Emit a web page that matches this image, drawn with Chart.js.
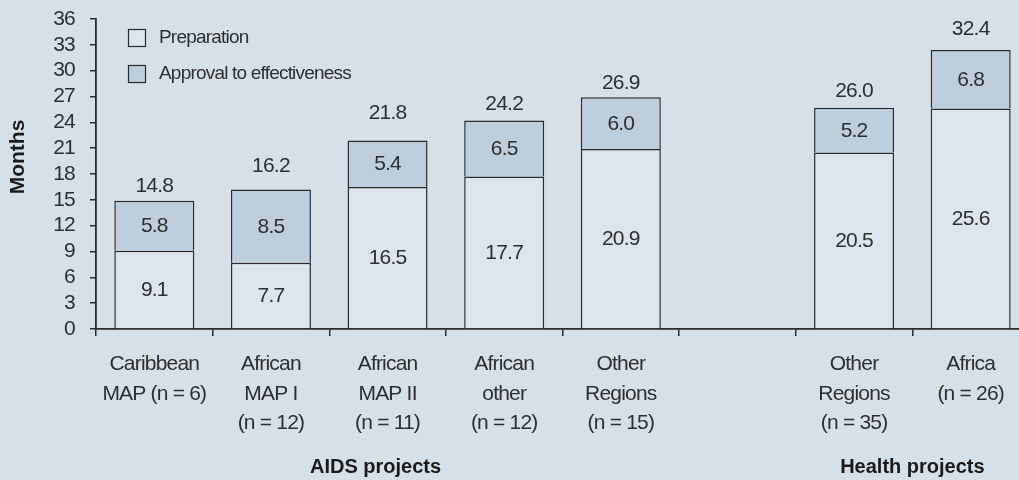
<!DOCTYPE html>
<html>
<head>
<meta charset="utf-8">
<script src="https://cdn.jsdelivr.net/npm/chart.js@4.4.1/dist/chart.umd.min.js"></script>
<style>
  html, body { margin: 0; padding: 0; overflow: hidden; background: #d6e0e9; }
  #wrap { width: 1019px; height: 480px; overflow: hidden; }
</style>
</head>
<body>
<div id="wrap"><canvas id="chart" width="1040" height="480"></canvas></div>
<script>
// Data
const categories = [
  ["Caribbean", "MAP (n = 6)"],
  ["African", "MAP I", "(n = 12)"],
  ["African", "MAP II", "(n = 11)"],
  ["African", "other", "(n = 12)"],
  ["Other", "Regions", "(n = 15)"],
  "",
  ["Other", "Regions", "(n = 35)"],
  ["Africa", "(n = 26)"]
];
const preparation = [9.1, 7.7, 16.5, 17.7, 20.9, null, 20.5, 25.6];
const approval = [5.8, 8.5, 5.4, 6.5, 6.0, null, 5.2, 6.8];
const totals = [14.8, 16.2, 21.8, 24.2, 26.9, null, 26.0, 32.4];
const yTicks = [0, 3, 6, 9, 12, 15, 18, 21, 24, 27, 30, 33, 36];
const groups = [
  { label: "AIDS projects", from: 0, to: 4 },
  { label: "Health projects", from: 6, to: 7 }
];

const FONT = "'Liberation Sans Narrow', 'Liberation Sans', Arial, sans-serif";
const INK = "#2e2e2e";
const LINE = "#2a2a2a";
const SQUEEZE = "-0.8px";

// gap between bar top and total label (px), per bar
const totalGap = [14, 23, 27, 16, 14, 0, 16, 21];

const labelsPlugin = {
  id: "labels",
  beforeDraw(chart) {
    chart.ctx.letterSpacing = SQUEEZE;
  },
  afterDraw(chart) {
    const ctx = chart.ctx;
    const area = chart.chartArea;
    const x = chart.scales.x;
    ctx.save();
    ctx.letterSpacing = SQUEEZE;
    ctx.fillStyle = INK;
    ctx.textAlign = "center";
    ctx.textBaseline = "middle";
    ctx.font = "21px " + FONT;

    // segment values
    chart.data.datasets.forEach((ds, di) => {
      const meta = chart.getDatasetMeta(di);
      meta.data.forEach((el, i) => {
        if (ds.data[i] == null) return;
        ctx.fillText(ds.data[i].toFixed(1), el.x, (el.y + el.base) / 2 + 1);
      });
    });

    // totals above the stacks
    const top = chart.getDatasetMeta(1);
    top.data.forEach((el, i) => {
      if (totals[i] == null) return;
      ctx.fillText(totals[i].toFixed(1), el.x, el.y - totalGap[i]);
    });

    // legend
    ctx.textAlign = "left";
    ctx.font = "19px " + FONT;
    chart.data.datasets.forEach((ds, di) => {
      const bx = area.left + 32;
      const by = area.top + 10 + di * 36;
      ctx.fillStyle = ds.backgroundColor;
      ctx.fillRect(bx, by, 17, 17);
      ctx.strokeStyle = LINE;
      ctx.lineWidth = 1.2;
      ctx.strokeRect(bx + 0.5, by + 0.5, 17, 17);
      ctx.fillStyle = INK;
      ctx.fillText(ds.label, bx + 31, by + 9);
    });

    // group labels
    ctx.letterSpacing = "0px";
    ctx.textAlign = "center";
    ctx.font = "bold 20px " + FONT;
    ctx.fillStyle = "#1a1a1a";
    groups.forEach((g, gi) => {
      let cx = (x.getPixelForValue(g.from) + x.getPixelForValue(g.to)) / 2;
      if (gi === 0) cx -= 12;
      ctx.fillText(g.label, cx, 467);
    });

    // y axis title
    ctx.font = "bold 21px " + FONT;
    ctx.translate(18, 157);
    ctx.rotate(-Math.PI / 2);
    ctx.fillText("Months", 0, 0);
    ctx.restore();
  }
};

new Chart(document.getElementById("chart").getContext("2d"), {
  type: "bar",
  data: {
    labels: categories,
    datasets: [
      {
        label: "Preparation",
        data: preparation,
        backgroundColor: "#dce5ed",
        borderColor: LINE,
        borderWidth: 1.5
      },
      {
        label: "Approval to effectiveness",
        data: approval,
        backgroundColor: "#bdcfdd",
        borderColor: LINE,
        borderWidth: 1.5
      }
    ]
  },
  options: {
    responsive: false,
    animation: false,
    devicePixelRatio: 1,
    layout: { padding: { top: 19, left: 0, right: 11, bottom: 0 } },
    datasets: { bar: { categoryPercentage: 1, barPercentage: 0.686 } },
    plugins: {
      legend: { display: false },
      tooltip: { enabled: false }
    },
    scales: {
      x: {
        stacked: true,
        afterFit: (s) => { s.height = 151; s.paddingLeft = 0; s.paddingRight = 0; },
        grid: { drawOnChartArea: false, offset: true, tickLength: 7, color: LINE, lineWidth: 1.5 },
        border: { display: true, color: LINE, width: 1.8 },
        ticks: {
          color: INK,
          padding: 14,
          maxRotation: 0,
          autoSkip: false,
          font: { family: FONT, size: 21, lineHeight: 1.4 }
        }
      },
      y: {
        stacked: true,
        min: 0,
        max: 36,
        afterFit: (s) => { s.width = 96; s.paddingTop = 0; s.paddingBottom = 0; },
        afterBuildTicks: (s) => { s.ticks = yTicks.map(v => ({ value: v })); },
        grid: { drawOnChartArea: false, tickLength: 6, color: LINE, lineWidth: 1.5 },
        border: { display: true, color: LINE, width: 1.8 },
        ticks: {
          color: INK,
          padding: 15,
          autoSkip: false,
          font: { family: FONT, size: 21 }
        }
      }
    }
  },
  plugins: [labelsPlugin]
});
</script>
</body>
</html>
